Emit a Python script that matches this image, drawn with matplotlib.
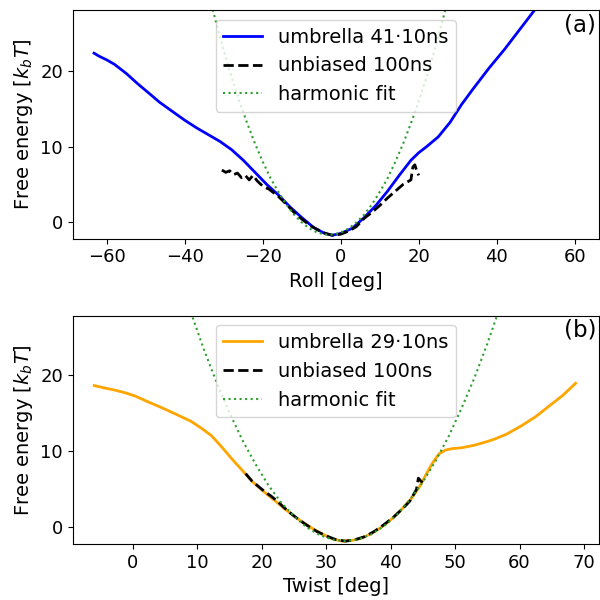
import matplotlib
matplotlib.use("Agg")
import matplotlib.pyplot as plt

# --- (a) Roll ---
roll_umb_x = [-63.3, -62, -60, -58, -55, -52, -49, -46.5, -43, -40, -37, -34, -31, -28, -25,
              -22, -19, -16, -13, -10, -7, -4.5, -2.3, 0, 3, 6, 9, 12, 15, 18, 20, 22, 25,
              28, 31, 34, 38, 42, 46, 50, 55, 60.3]
roll_umb_y = [22.4, 22.0, 21.5, 20.9, 19.7, 18.3, 17.0, 15.9, 14.6, 13.5, 12.5, 11.6, 10.7, 9.6, 8.2,
              6.6, 5.0, 3.6, 2.0, 0.6, -0.7, -1.4, -1.75, -1.5, -0.8, 0.6, 2.2, 4.1, 6.2, 8.2, 9.2, 10.0, 11.3,
              13.2, 15.6, 17.7, 20.4, 22.9, 25.6, 28.3, 31.5, 35.0]

roll_unb_x = [-30.5, -29.5, -28.5, -27.5, -26.5, -25.5, -24.5, -23.5, -22.5, -21.5, -20.5, -19.5,
              -18.5, -17.5, -16, -14, -12, -10, -8, -6, -4, -2, 0, 2, 4, 6, 8, 10, 12, 14, 16,
              17, 18, 18.5, 19, 19.5, 20]
roll_unb_y = [6.9, 6.6, 6.8, 6.3, 6.5, 5.9, 6.2, 5.6, 6.2, 5.5, 5.0, 4.6,
              4.4, 4.0, 3.4, 2.4, 1.3, 0.4, -0.4, -1.0, -1.5, -1.75, -1.6, -1.2, -0.6, 0.5, 1.3, 2.2, 3.2, 4.1, 5.0,
              5.3, 5.6, 7.3, 7.6, 6.8, 6.2]

roll_fit_x = [-34, -32, -30, -28, -26, -24, -22, -20, -18, -16, -14, -12, -10, -8, -6, -4, -2,
              0, 2, 4, 6, 8, 10, 12, 14, 16, 18, 20, 22, 24, 26, 28]
roll_fit_y = [30.5, 26.5, 22.7, 19.2, 16.0, 13.1, 10.4, 8.0, 5.8, 4.0, 2.35, 1.0, -0.05, -0.85, -1.4, -1.65, -1.65,
              -1.4, -0.85, -0.05, 1.0, 2.35, 4.0, 5.8, 8.0, 10.4, 13.1, 16.0, 19.2, 22.7, 26.5, 30.5]

# --- (b) Twist ---
twist_umb_x = [-6.0, -4.5, -2.8, -1, 0.4, 2.5, 4.7, 7, 9, 10.6, 12.2, 13.8, 15.4, 17, 18.6, 20.2,
               21.8, 23.5, 25, 26.5, 28, 29.5, 31, 32.5, 34, 35.5, 37, 38.5, 40, 41.5, 43.2, 44.5,
               45.5, 46.5, 47.5, 48.5, 49.6, 51, 52.8, 54.5, 56, 58, 60.3, 62.5, 64.6, 66.7, 68.7]
twist_umb_y = [18.6, 18.3, 18.0, 17.6, 17.2, 16.4, 15.6, 14.7, 13.9, 13.0, 12.0, 10.5, 8.9, 7.4, 5.9, 4.7,
               3.6, 2.4, 1.4, 0.5, -0.3, -1.0, -1.6, -1.9, -1.8, -1.5, -0.9, -0.1, 0.9, 2.1, 3.7, 5.3,
               6.9, 8.4, 9.6, 10.1, 10.3, 10.4, 10.7, 11.1, 11.5, 12.2, 13.3, 14.5, 15.9, 17.3, 18.9]

twist_unb_x = [17.5, 18.5, 19.5, 20.5, 21.5, 22.5, 24, 25.5, 27, 28.5, 30, 31.5, 33, 34.5, 36,
               37.5, 39, 40.5, 42, 43, 44, 44.3, 44.6, 45.1]
twist_unb_y = [7.0, 6.0, 5.3, 4.6, 4.0, 3.3, 2.1, 1.1, 0.2, -0.6, -1.2, -1.7, -1.9, -1.7, -1.3,
               -0.6, 0.3, 1.3, 2.5, 3.4, 4.9, 6.4, 6.1, 5.7]

twist_fit_x = [9, 11, 13, 15, 17, 19, 21, 23, 25, 27, 29, 31, 33, 35, 37, 39, 41, 43, 45, 47,
               49, 51, 53, 55, 57]
twist_fit_y = [28.25, 23.4, 19.0, 15.0, 11.4, 8.3, 5.5, 3.2, 1.4, -0.1, -1.1, -1.7, -1.9, -1.65, -1.0,
               0.1, 1.6, 3.6, 5.9, 8.7, 11.9, 15.6, 19.6, 24.1, 29.0]

fs = 14

fig, (ax1, ax2) = plt.subplots(2, 1, figsize=(6, 6), dpi=100)
plt.subplots_adjust(left=0.121, right=0.998, bottom=0.093, top=0.983, hspace=0.337)

# panel a
ax1.plot(roll_umb_x, roll_umb_y, color='blue', lw=2, label='umbrella 41·10ns')
ax1.plot(roll_unb_x, roll_unb_y, 'k--', lw=2, label='unbiased 100ns')
ax1.plot(roll_fit_x, roll_fit_y, color='tab:green', ls=':', lw=1.5, label='harmonic fit')
ax1.set_xlim(-68.8, 66.2)
ax1.set_ylim(-2.2, 28.1)
ax1.set_xlabel('Roll [deg]', fontsize=fs)
ax1.set_ylabel(r'Free energy [$k_bT$]', fontsize=fs)
ax1.tick_params(labelsize=13)
ax1.legend(loc='upper center', fontsize=fs)
ax1.text(0.995, 0.987, '(a)', transform=ax1.transAxes, ha='right', va='top', fontsize=16.5)

# panel b
ax2.plot(twist_umb_x, twist_umb_y, color='orange', lw=2, label='umbrella 29·10ns')
ax2.plot(twist_unb_x, twist_unb_y, 'k--', lw=2, label='unbiased 100ns')
ax2.plot(twist_fit_x, twist_fit_y, color='tab:green', ls=':', lw=1.5, label='harmonic fit')
ax2.set_xlim(-9.35, 72.3)
ax2.set_ylim(-2.3, 27.8)
ax2.set_xlabel('Twist [deg]', fontsize=fs)
ax2.set_ylabel(r'Free energy [$k_bT$]', fontsize=fs)
ax2.tick_params(labelsize=13)
ax2.legend(loc='upper center', fontsize=fs)
ax2.text(0.995, 0.987, '(b)', transform=ax2.transAxes, ha='right', va='top', fontsize=16.5)

plt.savefig('out.png', dpi=100)
